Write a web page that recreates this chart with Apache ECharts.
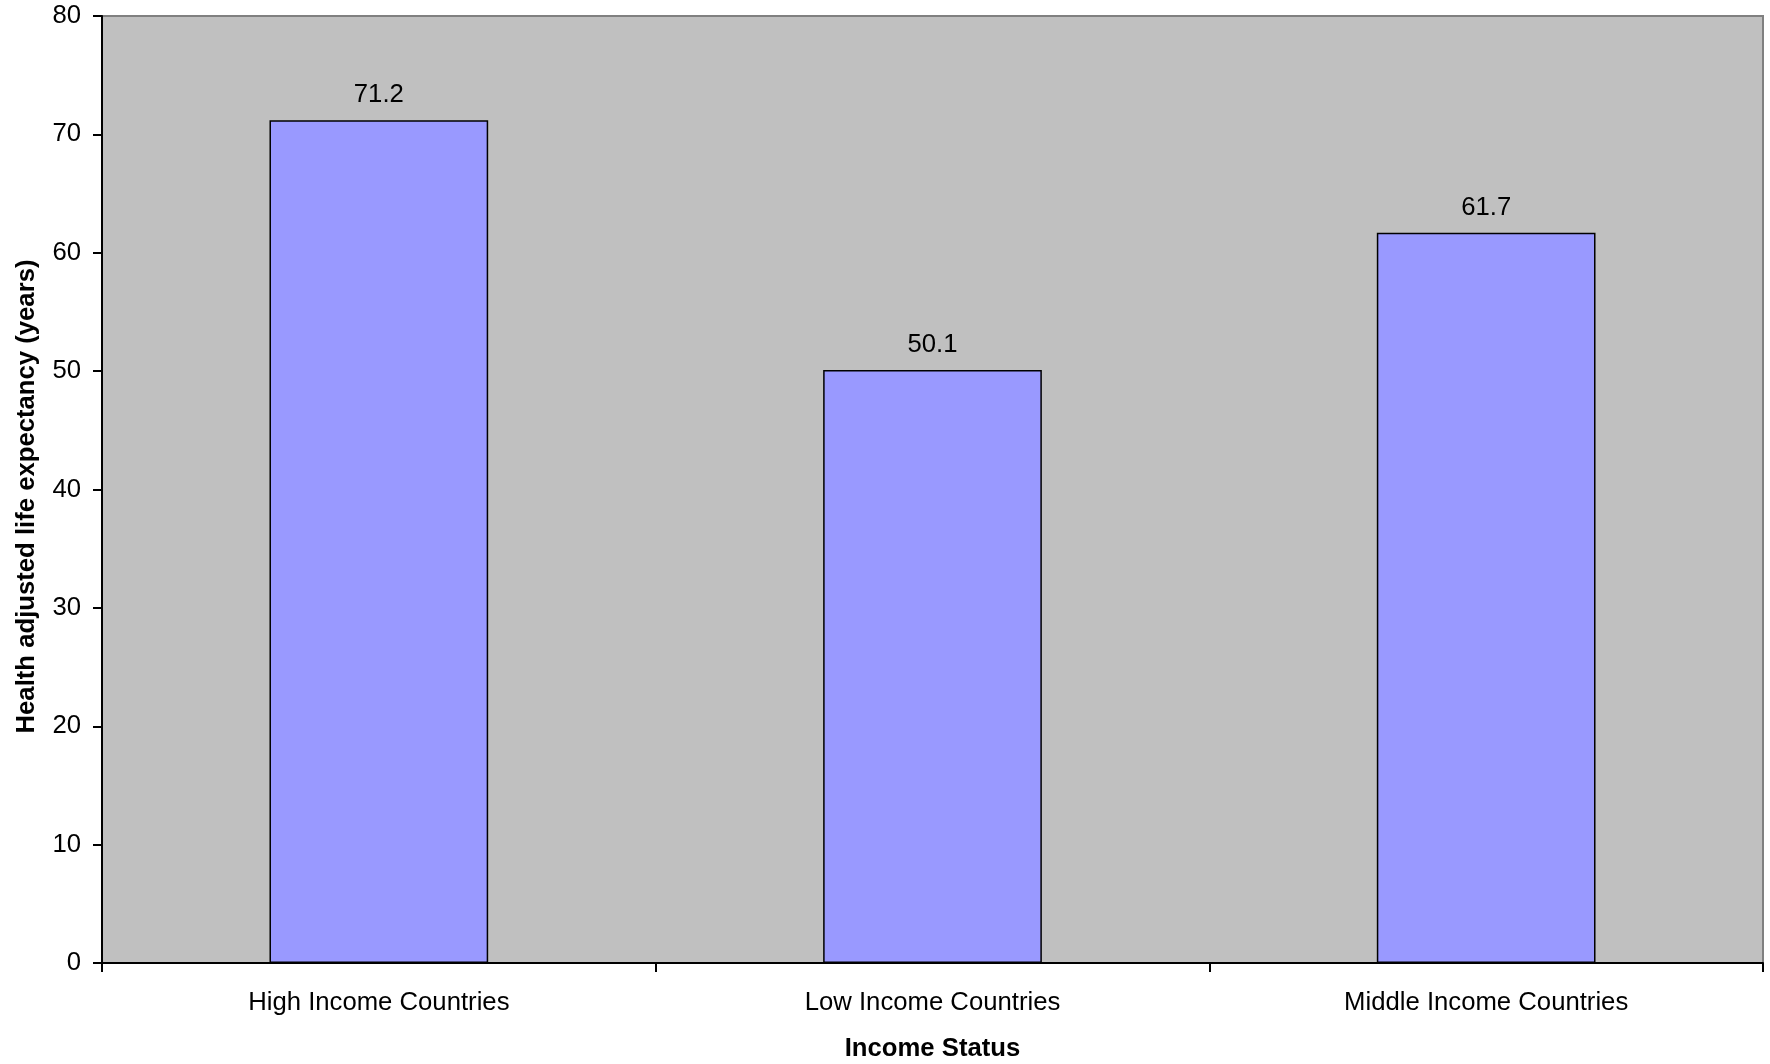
<!DOCTYPE html>
<html>
<head>
<meta charset="utf-8">
<script src="https://cdn.jsdelivr.net/npm/echarts@6/dist/echarts.min.js"></script>
<style>
html,body{margin:0;padding:0;background:#fff;}
#chart{width:1770px;height:1064px;}
</style>
</head>
<body>
<div id="chart"></div>
<script>
const categories = ['High Income Countries', 'Low Income Countries', 'Middle Income Countries'];
const values = [71.2, 50.1, 61.7];
const yTicks = [0, 10, 20, 30, 40, 50, 60, 70, 80];
const xTitle = 'Income Status';
const yTitle = 'Health adjusted life expectancy (years)';

const FONT = '"Liberation Sans", Arial, sans-serif';
const FS = 25.7;
const chart = echarts.init(document.getElementById('chart'), null, {renderer: 'canvas'});
chart.setOption({
  animation: false,
  backgroundColor: '#ffffff',
  grid: {
    left: 102, top: 16, right: 7, bottom: 101,
    outerBoundsMode: 'none', containLabel: false,
    show: true, backgroundColor: '#C0C0C0', borderColor: '#808080', borderWidth: 2
  },
  xAxis: {
    type: 'category',
    data: categories,
    name: xTitle,
    nameLocation: 'middle',
    nameGap: 73,
    nameTextStyle: {fontFamily: FONT, fontSize: FS, fontWeight: 'bold', color: '#000'},
    axisLine: {show: true, lineStyle: {color: '#000', width: 2}},
    axisTick: {show: true, length: 9, interval: 0, lineStyle: {color: '#000', width: 2}},
    axisLabel: {margin: 27, fontFamily: FONT, fontSize: FS, color: '#000', interval: 0},
    splitLine: {show: false}
  },
  yAxis: {
    type: 'value',
    min: yTicks[0],
    max: yTicks[yTicks.length - 1],
    interval: yTicks[1] - yTicks[0],
    name: yTitle,
    nameLocation: 'middle',
    nameGap: 62,
    nameTextStyle: {fontFamily: FONT, fontSize: FS, fontWeight: 'bold', color: '#000', padding: [0, 14, 0, 0]},
    axisLine: {show: true, lineStyle: {color: '#000', width: 2}},
    axisTick: {show: true, length: 9, lineStyle: {color: '#000', width: 2}},
    axisLabel: {margin: 21, fontFamily: FONT, fontSize: FS, color: '#000'},
    splitLine: {show: false}
  },
  series: [{
    type: 'bar',
    data: values,
    barWidth: '39.5%',
    itemStyle: {color: '#9999FF', borderColor: '#000', borderWidth: 1.5},
    label: {
      show: true, position: 'top', distance: 12,
      fontFamily: FONT, fontSize: FS, color: '#000',
      formatter: p => p.value.toFixed(1)
    }
  }]
});
</script>
</body>
</html>
